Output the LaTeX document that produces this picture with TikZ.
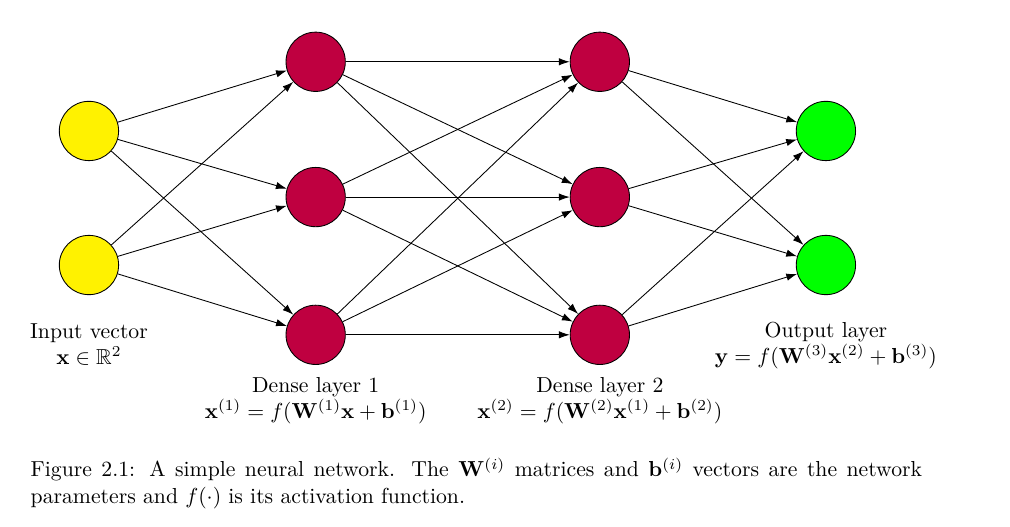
\documentclass[tikz,border=0pt]{standalone}
\usepackage{amsmath}
\usepackage{amssymb}
\usepackage{tikz}
\usetikzlibrary{arrows,arrows.meta,positioning}

\tikzset{neuron/.style={circle,draw,minimum size=0.96cm,inner sep=0pt},
         inlayer/.style={neuron,fill=yellow},
         dense/.style={neuron,fill=purple},
         outlayer/.style={neuron,fill=green}}

\begin{document}
\begin{tikzpicture}[->,>={Latex[length=5pt,width=3.4pt]},thin]
	\useasboundingbox (0,0) rectangle (16.35,8.53);

	% input layer
	\node[inlayer] (i1) at (1.44,6.41) {};
	\node[inlayer] (i2) at (1.44,4.24) {};
	% dense layers
	\node[dense] (a1) at (5.11,7.53) {};
	\node[dense] (a2) at (5.11,5.34) {};
	\node[dense] (a3) at (5.11,3.11) {};
	\node[dense] (b1) at (9.71,7.53) {};
	\node[dense] (b2) at (9.71,5.34) {};
	\node[dense] (b3) at (9.71,3.11) {};
	% output layer
	\node[outlayer] (o1) at (13.37,6.41) {};
	\node[outlayer] (o2) at (13.37,4.24) {};

	\foreach \i in {1,2}
		\foreach \j in {1,2,3}
			\draw (i\i) -- (a\j);
	\foreach \i in {1,2,3}
		\foreach \j in {1,2,3}
			\draw (a\i) -- (b\j);
	\foreach \i in {1,2,3}
		\foreach \j in {1,2}
			\draw (b\i) -- (o\j);

	% labels
	\node[align=center] (inlabel) at (1.44,2.96)
		{Input vector\\$\mathbf{x}\in\mathbb{R}^2$};
	\node[align=center] (alabel) at (5.11,2.05)
		{Dense layer 1\\$\mathbf{x}^{(1)}=f(\mathbf{W}^{(1)}\mathbf{x}+\mathbf{b}^{(1)})$};
	\node[align=center] (blabel) at (9.71,2.05)
		{Dense layer 2\\$\mathbf{x}^{(2)}=f(\mathbf{W}^{(2)}\mathbf{x}^{(1)}+\mathbf{b}^{(2)})$};
	\node[align=center] (outlabel) at (13.37,2.94)
		{Output layer\\$\mathbf{y}=f(\mathbf{W}^{(3)}\mathbf{x}^{(2)}+\mathbf{b}^{(3)})$};

	\node[text width=14.43cm,align=justify,anchor=west,inner sep=0pt] (caption) at (0.49,0.71)
		{Figure 2.1: A simple neural network. The $\mathbf{W}^{(i)}$ matrices and
		$\mathbf{b}^{(i)}$ vectors are the network parameters and $f(\cdot)$ is its
		activation function.};
\end{tikzpicture}
\end{document}
